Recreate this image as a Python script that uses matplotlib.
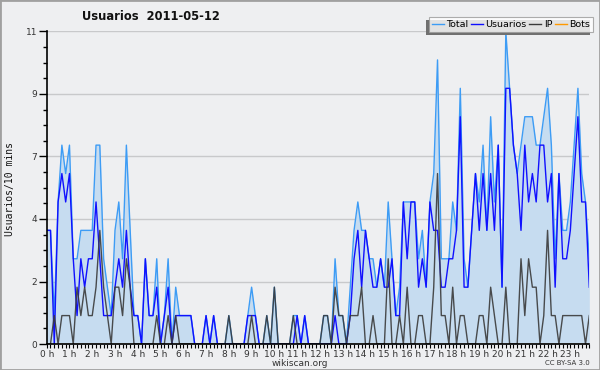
import matplotlib
matplotlib.use("Agg")
import matplotlib.pyplot as plt
from matplotlib.ticker import MultipleLocator, FixedLocator, FixedFormatter
from matplotlib.patches import Rectangle
from matplotlib.lines import Line2D
from matplotlib.transforms import IdentityTransform

# ---- data (10-minute slots, 144 per day) ----
hour_labels = [f"{h} h" for h in range(24)]

usuarios = [
    4, 4, 0, 5, 6, 5, 6, 3, 1, 3, 2, 3,
    3, 5, 3, 1, 1, 1, 2, 3, 2, 4, 2, 1,
    1, 0, 3, 1, 1, 2, 0, 1, 2, 0, 1, 1,
    1, 1, 1, 0, 0, 0, 1, 0, 1, 0, 0, 0,
    0, 0, 0, 0, 0, 1, 1, 1, 0, 0, 0, 0,
    0, 0, 0, 0, 0, 0, 1, 0, 1, 0, 0, 0,
    0, 0, 0, 0, 1, 0, 0, 0, 1, 3, 4, 2,
    4, 3, 2, 2, 3, 2, 2, 3, 1, 1, 5, 3,
    5, 5, 2, 3, 2, 5, 4, 4, 2, 2, 3, 3,
    4, 8, 2, 2, 4, 6, 4, 6, 4, 6, 4, 7,
    2, 9, 9, 7, 6, 4, 7, 5, 6, 5, 7, 7,
    5, 6, 2, 6, 3, 3, 4, 6, 8, 5, 5, 2,
]

ip = [
    0, 0, 1, 0, 1, 1, 1, 0, 2, 1, 2, 1,
    1, 2, 4, 2, 1, 0, 2, 2, 1, 3, 2, 0,
    0, 0, 0, 0, 0, 1, 0, 0, 1, 0, 1, 0,
    0, 0, 0, 0, 0, 0, 0, 0, 0, 0, 0, 0,
    1, 0, 0, 0, 0, 0, 1, 0, 0, 0, 1, 0,
    2, 0, 0, 0, 0, 1, 0, 0, 0, 0, 0, 0,
    0, 1, 1, 0, 2, 1, 1, 0, 1, 1, 1, 2,
    0, 0, 1, 0, 0, 0, 3, 0, 0, 1, 0, 2,
    0, 0, 1, 1, 0, 0, 2, 6, 1, 1, 0, 2,
    0, 1, 1, 0, 0, 0, 1, 1, 0, 2, 1, 0,
    0, 2, 0, 0, 0, 3, 1, 3, 2, 2, 0, 1,
    4, 1, 1, 0, 1, 1, 1, 1, 1, 1, 0, 1,
]

total = [
    4, 4, 1, 5, 7, 6, 7, 3, 3, 4, 4, 4,
    4, 7, 7, 3, 2, 1, 4, 5, 3, 7, 4, 1,
    1, 0, 3, 1, 1, 3, 0, 1, 3, 0, 2, 1,
    1, 1, 1, 0, 0, 0, 1, 0, 1, 0, 0, 0,
    1, 0, 0, 0, 0, 1, 2, 1, 0, 0, 1, 0,
    2, 0, 0, 0, 0, 1, 1, 0, 1, 0, 0, 0,
    0, 1, 1, 0, 3, 1, 1, 0, 2, 4, 5, 4,
    4, 3, 3, 2, 3, 2, 5, 3, 1, 2, 5, 5,
    5, 5, 3, 4, 2, 5, 6, 10, 3, 3, 3, 5,
    4, 9, 3, 2, 4, 6, 5, 7, 4, 8, 5, 7,
    2, 11, 9, 7, 6, 7, 8, 8, 8, 7, 7, 8,
    9, 7, 3, 6, 4, 4, 5, 7, 9, 6, 5, 3,
]

bots = [
    0, 0, 0, 0, 0, 0, 0, 0, 0, 0, 0, 0,
    0, 0, 0, 0, 0, 0, 0, 0, 0, 0, 0, 0,
    0, 0, 0, 0, 0, 0, 0, 0, 0, 0, 0, 0,
    0, 0, 0, 0, 0, 0, 0, 0, 0, 0, 0, 0,
    0, 0, 0, 0, 0, 0, 0, 0, 0, 0, 0, 0,
    0, 0, 0, 0, 0, 0, 0, 0, 0, 0, 0, 0,
    0, 0, 0, 0, 0, 0, 0, 0, 0, 0, 0, 0,
    0, 0, 0, 0, 0, 0, 0, 0, 0, 0, 0, 0,
    0, 0, 0, 0, 0, 0, 0, 0, 0, 0, 0, 0,
    0, 0, 0, 0, 0, 0, 0, 0, 0, 0, 0, 0,
    0, 0, 0, 0, 0, 0, 0, 0, 0, 0, 0, 0,
    0, 0, 0, 0, 0, 0, 0, 0, 0, 0, 0, 0,
]

y_tick_values = [0, 2.2, 4.4, 6.6, 8.8, 11]
y_tick_labels = ["0", "2", "4", "7", "9", "11"]

# ---- style ----
BG = "#eeeff1"
C_TOTAL = "#3d9cf5"
C_FILL = "#c6dcf0"
C_USR = "#1010ff"
C_IP = "#3a3a3a"
C_BOTS = "#ff9900"
C_TXT = "#333333"

x = list(range(len(total)))

fig = plt.figure(figsize=(6, 3.7), dpi=100)
fig.patch.set_facecolor(BG)
ax = fig.add_axes([46.7 / 600, 26 / 370, 542.6 / 600, 312.5 / 370])
ax.set_facecolor(BG)

ax.fill_between(x, total, 0, color=C_FILL, lw=0, zorder=1)
ax.plot(x, bots, color=C_BOTS, lw=1, zorder=1.5)
ax.plot(x, total, color=C_TOTAL, lw=1, zorder=2)
ax.plot(x, usuarios, color=C_USR, lw=1, zorder=2.1)
ax.plot(x, ip, color=C_IP, lw=1, alpha=0.9, zorder=2.2)

ax.set_xlim(0, len(total) - 1)
ax.set_ylim(0, 11)

ax.yaxis.set_major_locator(FixedLocator(y_tick_values))
ax.yaxis.set_major_formatter(FixedFormatter(y_tick_labels))
ax.yaxis.set_minor_locator(MultipleLocator(0.55))
ax.xaxis.set_major_locator(FixedLocator(list(range(0, 144, 6))))
ax.xaxis.set_major_formatter(FixedFormatter(hour_labels))
ax.xaxis.set_minor_locator(MultipleLocator(1))

ax.tick_params(axis="y", which="major", length=6, width=1, direction="out",
               labelsize=6.5, labelcolor=C_TXT, pad=1)
ax.tick_params(axis="y", which="minor", length=3, width=1, direction="out")
ax.tick_params(axis="x", which="both", length=3, width=0.8, direction="out")
ax.tick_params(axis="x", which="major", labelsize=6.5, labelcolor=C_TXT, pad=1)

ax.grid(axis="y", which="major", color="#c8c9cb", lw=1, zorder=0)
ax.set_axisbelow(True)
for s in ("top", "right"):
    ax.spines[s].set_visible(False)
for s in ("left", "bottom"):
    ax.spines[s].set_color("black")
    ax.spines[s].set_linewidth(1.2)
    ax.spines[s].set_zorder(3)

# titles / texts
fig.text(151 / 600, 1 - 17 / 370, "Usuarios  2011-05-12", ha="center", va="center",
         fontsize=8.3, fontweight="bold", family="DejaVu Sans", color="#111111")
fig.text(10 / 600, 1 - 189 / 370, "Usuarios/10 mins", rotation=90, ha="center",
         va="center", fontsize=7, family="DejaVu Sans Mono", color="#111111")
fig.text(300 / 600, 1 - 363 / 370, "wikiscan.org", ha="center", va="center",
         fontsize=6.5, color=C_TXT)
fig.text(590 / 600, 1 - 363 / 370, "CC BY-SA 3.0", ha="right", va="center",
         fontsize=5, color=C_TXT)

# legend
handles = [Line2D([], [], color=C_TOTAL, lw=1),
           Line2D([], [], color=C_USR, lw=1),
           Line2D([], [], color=C_IP, lw=1),
           Line2D([], [], color=C_BOTS, lw=1)]
labels = ["Total", "Usuarios", "IP", "Bots"]
leg = fig.legend(handles, labels, ncol=4, loc="upper right",
                 bbox_to_anchor=(593 / 600, 1 - 17 / 370), fontsize=6.8,
                 frameon=True, fancybox=False, handlelength=1.3,
                 handletextpad=0.25, columnspacing=0.25, borderpad=0.3,
                 borderaxespad=0)
leg.get_frame().set_facecolor("white")
leg.get_frame().set_edgecolor("#9a9a9a")
leg.get_frame().set_linewidth(0.8)
leg.set_zorder(6)

fig.canvas.draw()
bb = leg.get_window_extent()
shadow = Rectangle((bb.x0 - 3, bb.y0 - 3), bb.width, bb.height,
                   transform=IdentityTransform(), facecolor="#707070",
                   edgecolor="none", zorder=5)
fig.add_artist(shadow)

# figure border
fig.add_artist(Rectangle((0, 0), 1, 1, transform=fig.transFigure, fill=False,
                         edgecolor="#a0a0a0", lw=2, zorder=10))

fig.savefig("out.png", dpi=100, facecolor=BG)
